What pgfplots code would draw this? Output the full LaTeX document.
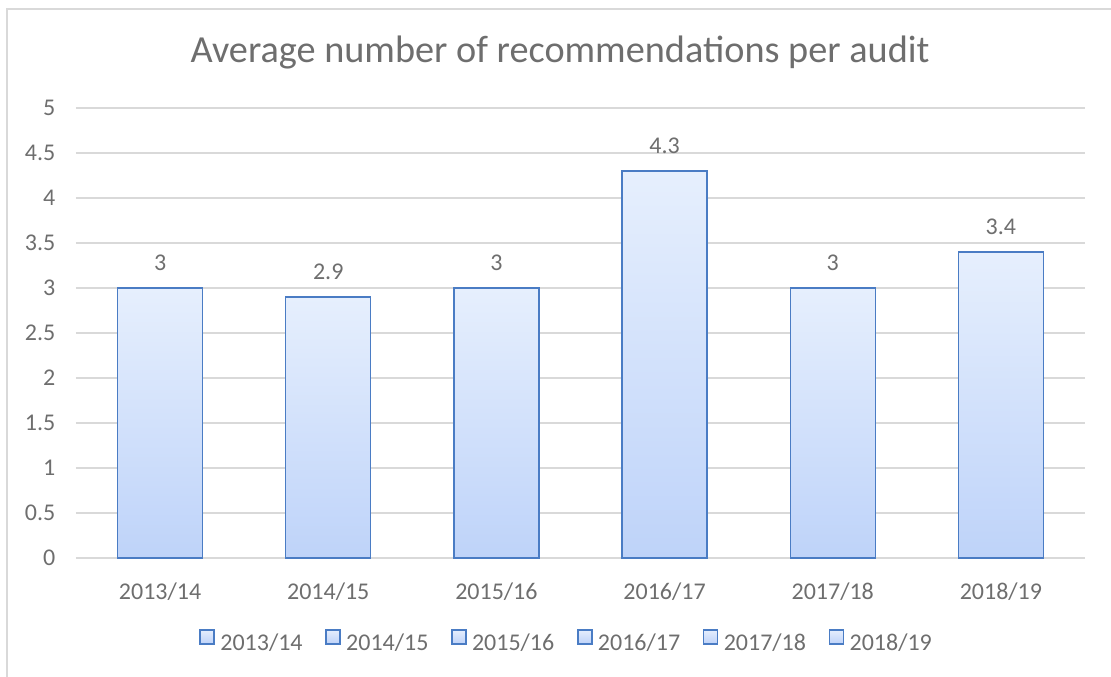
\documentclass[border=0pt]{standalone}
\usepackage{pgfplots}
\pgfplotsset{compat=1.18}
\usepackage{fontspec}
\setmainfont{Carlito}
\definecolor{txt}{HTML}{6E6E6E}
\definecolor{gridc}{HTML}{D9D9D9}
\definecolor{barline}{HTML}{4A7CC4}
\definecolor{bartop}{HTML}{E6EFFD}
\definecolor{barbot}{HTML}{BED3F9}
\begin{document}
\begin{tikzpicture}
\useasboundingbox (0pt,0pt) rectangle (833.25pt,507.75pt);
\draw[gridc, line width=1pt] (5.25pt,0pt) -- (5.25pt,501pt) -- (833.25pt,501pt);
\node[txt, font=\fontsize{28.7}{32}\selectfont] at (420pt,468.5pt) {Average number of recommendations per audit};
\begin{axis}[
  at={(57pt,89.25pt)}, anchor=south west,
  scale only axis, width=756.75pt, height=337.5pt,
  xmin=-0.5, xmax=5.5, ymin=0, ymax=5,
  ytick={0,0.5,...,5},
  xtick={0,...,5},
  xticklabels={2013/14,2014/15,2015/16,2016/17,2017/18,2018/19},
  axis line style={draw=none},
  major tick length=0pt,
  ymajorgrids, xmajorgrids=false, grid style={gridc, line width=1.1pt},
  tick label style={txt, font=\fontsize{18}{20}\selectfont},
  yticklabel style={xshift=-12pt},
  xticklabel style={yshift=-15pt},
  /pgf/number format/assume math mode=true,
  ybar, bar width=63.75pt,
  nodes near coords,
  every node near coord/.append style={txt, font=\fontsize{18}{20}\selectfont, yshift=9pt},
  legend columns=6,
  legend style={at={(0.4866,-0.1867)}, anchor=center, draw=none, fill=none,
    font=\fontsize{18}{20}\selectfont, text=txt,
    /tikz/every even column/.append style={column sep=15pt},
    /tikz/every odd column/.append style={column sep=2pt}},
  legend image code/.code={\draw[draw=barline, line width=1.2pt, top color=bartop, bottom color=barbot] (0pt,-0.5pt) rectangle (10.5pt,10pt);},
  clip=false,
]
\draw[gridc, line width=1.1pt] (axis cs:-0.5,0) -- (axis cs:5.5,0);
\addplot[draw=barline, line width=1.1pt, top color=bartop, bottom color=barbot, bar shift=0pt] coordinates {(0,3)};
\addplot[draw=barline, line width=1.1pt, top color=bartop, bottom color=barbot, bar shift=0pt] coordinates {(1,2.9)};
\addplot[draw=barline, line width=1.1pt, top color=bartop, bottom color=barbot, bar shift=0pt] coordinates {(2,3)};
\addplot[draw=barline, line width=1.1pt, top color=bartop, bottom color=barbot, bar shift=0pt] coordinates {(3,4.3)};
\addplot[draw=barline, line width=1.1pt, top color=bartop, bottom color=barbot, bar shift=0pt] coordinates {(4,3)};
\addplot[draw=barline, line width=1.1pt, top color=bartop, bottom color=barbot, bar shift=0pt] coordinates {(5,3.4)};
\legend{2013/14,2014/15,2015/16,2016/17,2017/18,2018/19}
\end{axis}
\end{tikzpicture}
\end{document}
